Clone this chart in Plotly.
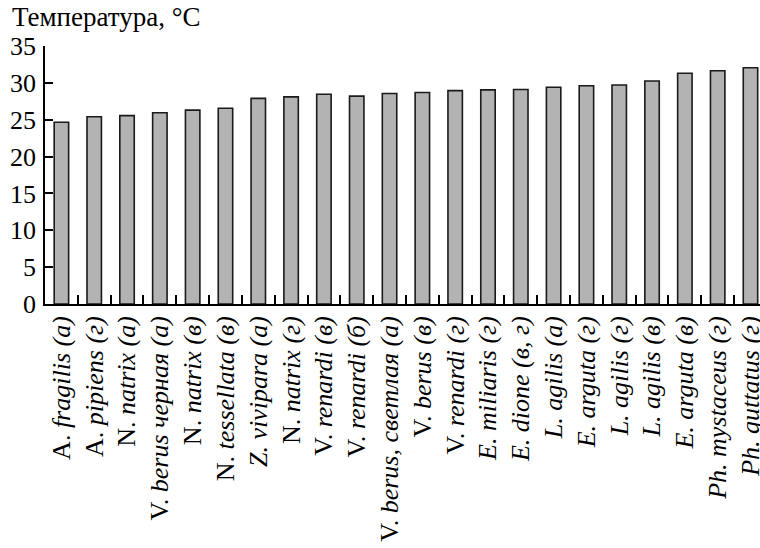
import plotly.graph_objects as go

# Species / sample labels (genus initial upright for A., N., V.; italic otherwise)
labels = [
    "A. <i>fragilis (а)</i>",
    "A. <i>pipiens (г)</i>",
    "N. <i>natrix (а)</i>",
    "V. <i>berus черная (а)</i>",
    "N. <i>natrix (в)</i>",
    "N. <i>tessellata (в)</i>",
    "<i>Z. vivipara (а)</i>",
    "N. <i>natrix (г)</i>",
    "V. <i>renardi (в)</i>",
    "V. <i>renardi (б)</i>",
    "V. <i>berus, светлая (а)</i>",
    "V. <i>berus (в)</i>",
    "V. <i>renardi (г)</i>",
    "<i>E. miliaris (г)</i>",
    "<i>E. dione (в, г)</i>",
    "<i>L. agilis (а)</i>",
    "<i>E. arguta (г)</i>",
    "<i>L. agilis (г)</i>",
    "<i>L. agilis (в)</i>",
    "<i>E. arguta (в)</i>",
    "<i>Ph. mystaceus (г)</i>",
    "<i>Ph. guttatus (г)</i>",
]

# Preferred body temperature, °C
temperature = [24.65, 25.4, 25.55, 25.95, 26.3, 26.55, 27.9, 28.1, 28.45, 28.2,
               28.55, 28.7, 28.95, 29.05, 29.1, 29.4, 29.6, 29.7, 30.25, 31.3,
               31.65, 32.05]

y_ticks = [0, 5, 10, 15, 20, 25, 30, 35]

FONT = "Liberation Serif, Times New Roman, serif"

n = len(labels)
positions = list(range(n))
boundaries = [i + 0.5 for i in range(n - 1)]
x_range = [-0.5, 21.29]

fig = go.Figure()
fig.add_trace(
    go.Bar(
        x=positions,
        y=temperature,
        width=0.44,
        marker=dict(color="#b3b3b3", line=dict(color="#1a1a1a", width=1.6)),
    )
)
# placeholder trace so the boundary-tick axis is drawn
fig.add_trace(go.Scatter(x=[], y=[], xaxis="x2", yaxis="y", showlegend=False))

fig.update_layout(
    width=760,
    height=548,
    margin=dict(l=45, r=0, t=46, b=244, autoexpand=False),
    paper_bgcolor="white",
    plot_bgcolor="white",
    showlegend=False,
    font=dict(family=FONT, size=26, color="black"),
    annotations=[
        dict(
            text="Температура, °С",
            xref="paper", yref="paper",
            x=-0.049, y=1.18,
            xanchor="left", yanchor="top",
            showarrow=False,
            font=dict(family=FONT, size=27, color="black"),
        )
    ],
    xaxis=dict(
        tickmode="array",
        tickvals=positions,
        ticktext=labels,
        tickangle=-90,
        range=x_range,
        automargin=False,
        showline=True, linecolor="black", linewidth=1.5,
        ticks="",
        showgrid=False, zeroline=False,
        tickfont=dict(family=FONT, size=26),
        ticklabeloverflow="allow",
    ),
    xaxis2=dict(
        overlaying="x",
        side="bottom",
        range=x_range,
        automargin=False,
        tickmode="array",
        tickvals=boundaries,
        showticklabels=False,
        ticks="inside", ticklen=9, tickwidth=1.5, tickcolor="black",
        showline=False, showgrid=False, zeroline=False,
    ),
    yaxis=dict(
        range=[0, 35],
        tickmode="array",
        tickvals=y_ticks,
        ticktext=[str(v) for v in y_ticks],
        automargin=False,
        showline=True, linecolor="black", linewidth=1.5,
        ticks="inside", ticklen=8, tickwidth=1.5, tickcolor="black",
        showgrid=False, zeroline=False,
        tickfont=dict(family=FONT, size=26),
        ticklabelstandoff=2,
    ),
)

fig.write_html("out.html")
